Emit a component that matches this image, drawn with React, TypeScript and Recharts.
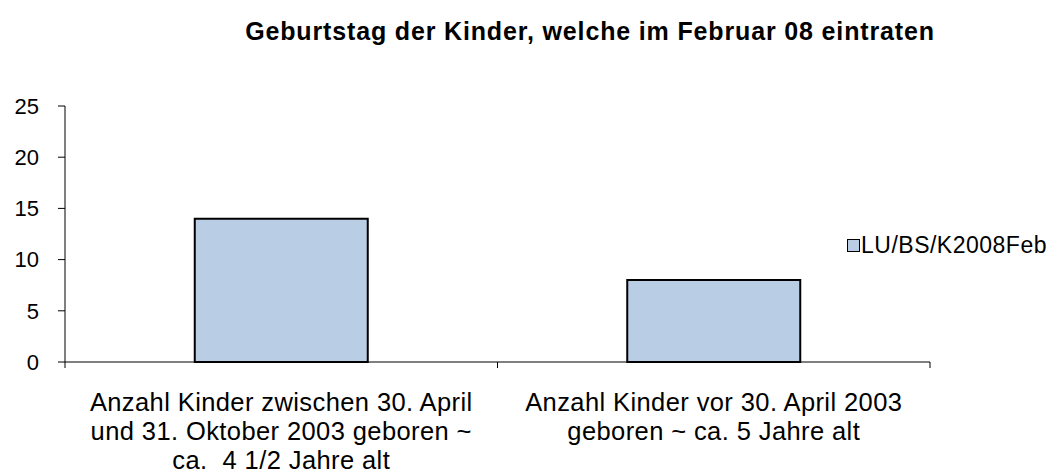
import React from 'react';
import { BarChart, Bar, XAxis, YAxis } from 'recharts';

const categories = ['Kinder 30.04.-31.10.2003', 'Kinder vor 30.04.2003'];
const categoryLines = [
  ['Anzahl Kinder zwischen 30. April', 'und 31. Oktober 2003 geboren ~', 'ca.  4 1/2 Jahre alt'],
  ['Anzahl Kinder vor 30. April 2003', 'geboren ~ ca. 5 Jahre alt'],
];
const counts = [14, 8];
const yTicks = [0, 5, 10, 15, 20, 25];
const seriesName = 'LU/BS/K2008Feb';
const title = 'Geburtstag der Kinder, welche im Februar 08 eintraten';

const data = categories.map((c, i) => ({ name: c, value: counts[i] }));

const FONT = '"Liberation Sans", Arial, sans-serif';
const BAR_FILL = '#B9CDE5';

const CategoryTick = (props: any) => {
  const { x, y, payload, index } = props;
  const half = payload.offset || 0;
  const lines = categoryLines[index] || [];
  return (
    <g>
      <line x1={x - half} y1={y - 8} x2={x - half} y2={y - 2} stroke="#000" strokeWidth={1} />
      {index === categories.length - 1 && (
        <line x1={x + half} y1={y - 8} x2={x + half} y2={y - 2} stroke="#000" strokeWidth={1} />
      )}
      <text
        x={x}
        y={y}
        textAnchor="middle"
        fill="#000"
        style={{ fontFamily: FONT, fontSize: 25.5, letterSpacing: 0.4, whiteSpace: 'pre' }}
      >
        {lines.map((l, i) => (
          <tspan key={i} x={x} y={y + 41 + i * 29}>
            {l}
          </tspan>
        ))}
      </text>
    </g>
  );
};

export default function App() {
  return (
    <div style={{ position: 'absolute', left: 0, top: 0, width: 1056, height: 475, background: '#fff', overflow: 'hidden' }}>
      <div
        style={{
          position: 'absolute',
          left: 0,
          width: 1056,
          top: 18,
          paddingLeft: 124,
          boxSizing: 'border-box',
          textAlign: 'center',
          fontFamily: FONT,
          fontWeight: 'bold',
          fontSize: 25,
          letterSpacing: 0.85,
          lineHeight: '27px',
          color: '#000',
          whiteSpace: 'nowrap',
        }}
      >
        {title}
      </div>
      <div
        style={{
          position: 'absolute',
          left: 847,
          top: 231,
          display: 'flex',
          alignItems: 'center',
          fontFamily: FONT,
          fontSize: 23,
          letterSpacing: 0.5,
          lineHeight: '28px',
          color: '#000',
          whiteSpace: 'nowrap',
        }}
      >
        <span style={{ width: 11, height: 11, background: BAR_FILL, border: '1px solid #000', display: 'inline-block', marginRight: 1 }} />
        <span>{seriesName}</span>
      </div>
      <BarChart
        width={1056}
        height={475}
        data={data}
        margin={{ top: 106, right: 126, bottom: 0, left: 0 }}
        barCategoryGap="30%"
      >
        <YAxis
          width={65}
          domain={[0, 25]}
          ticks={yTicks}
          interval={0}
          axisLine={{ stroke: '#000', strokeWidth: 1 }}
          tickLine={{ stroke: '#000', strokeWidth: 1 }}
          tickSize={7}
          tickMargin={19}
          tick={{ fill: '#000', fontFamily: FONT, fontSize: 22 }}
        />
        <XAxis
          dataKey="name"
          height={113}
          interval={0}
          axisLine={{ stroke: '#000', strokeWidth: 1 }}
          tickLine={false}
          tick={<CategoryTick />}
        />
        <Bar
          dataKey="value"
          name={seriesName}
          fill={BAR_FILL}
          stroke="#000"
          strokeWidth={2}
          isAnimationActive={false}
        />
      </BarChart>
    </div>
  );
}
